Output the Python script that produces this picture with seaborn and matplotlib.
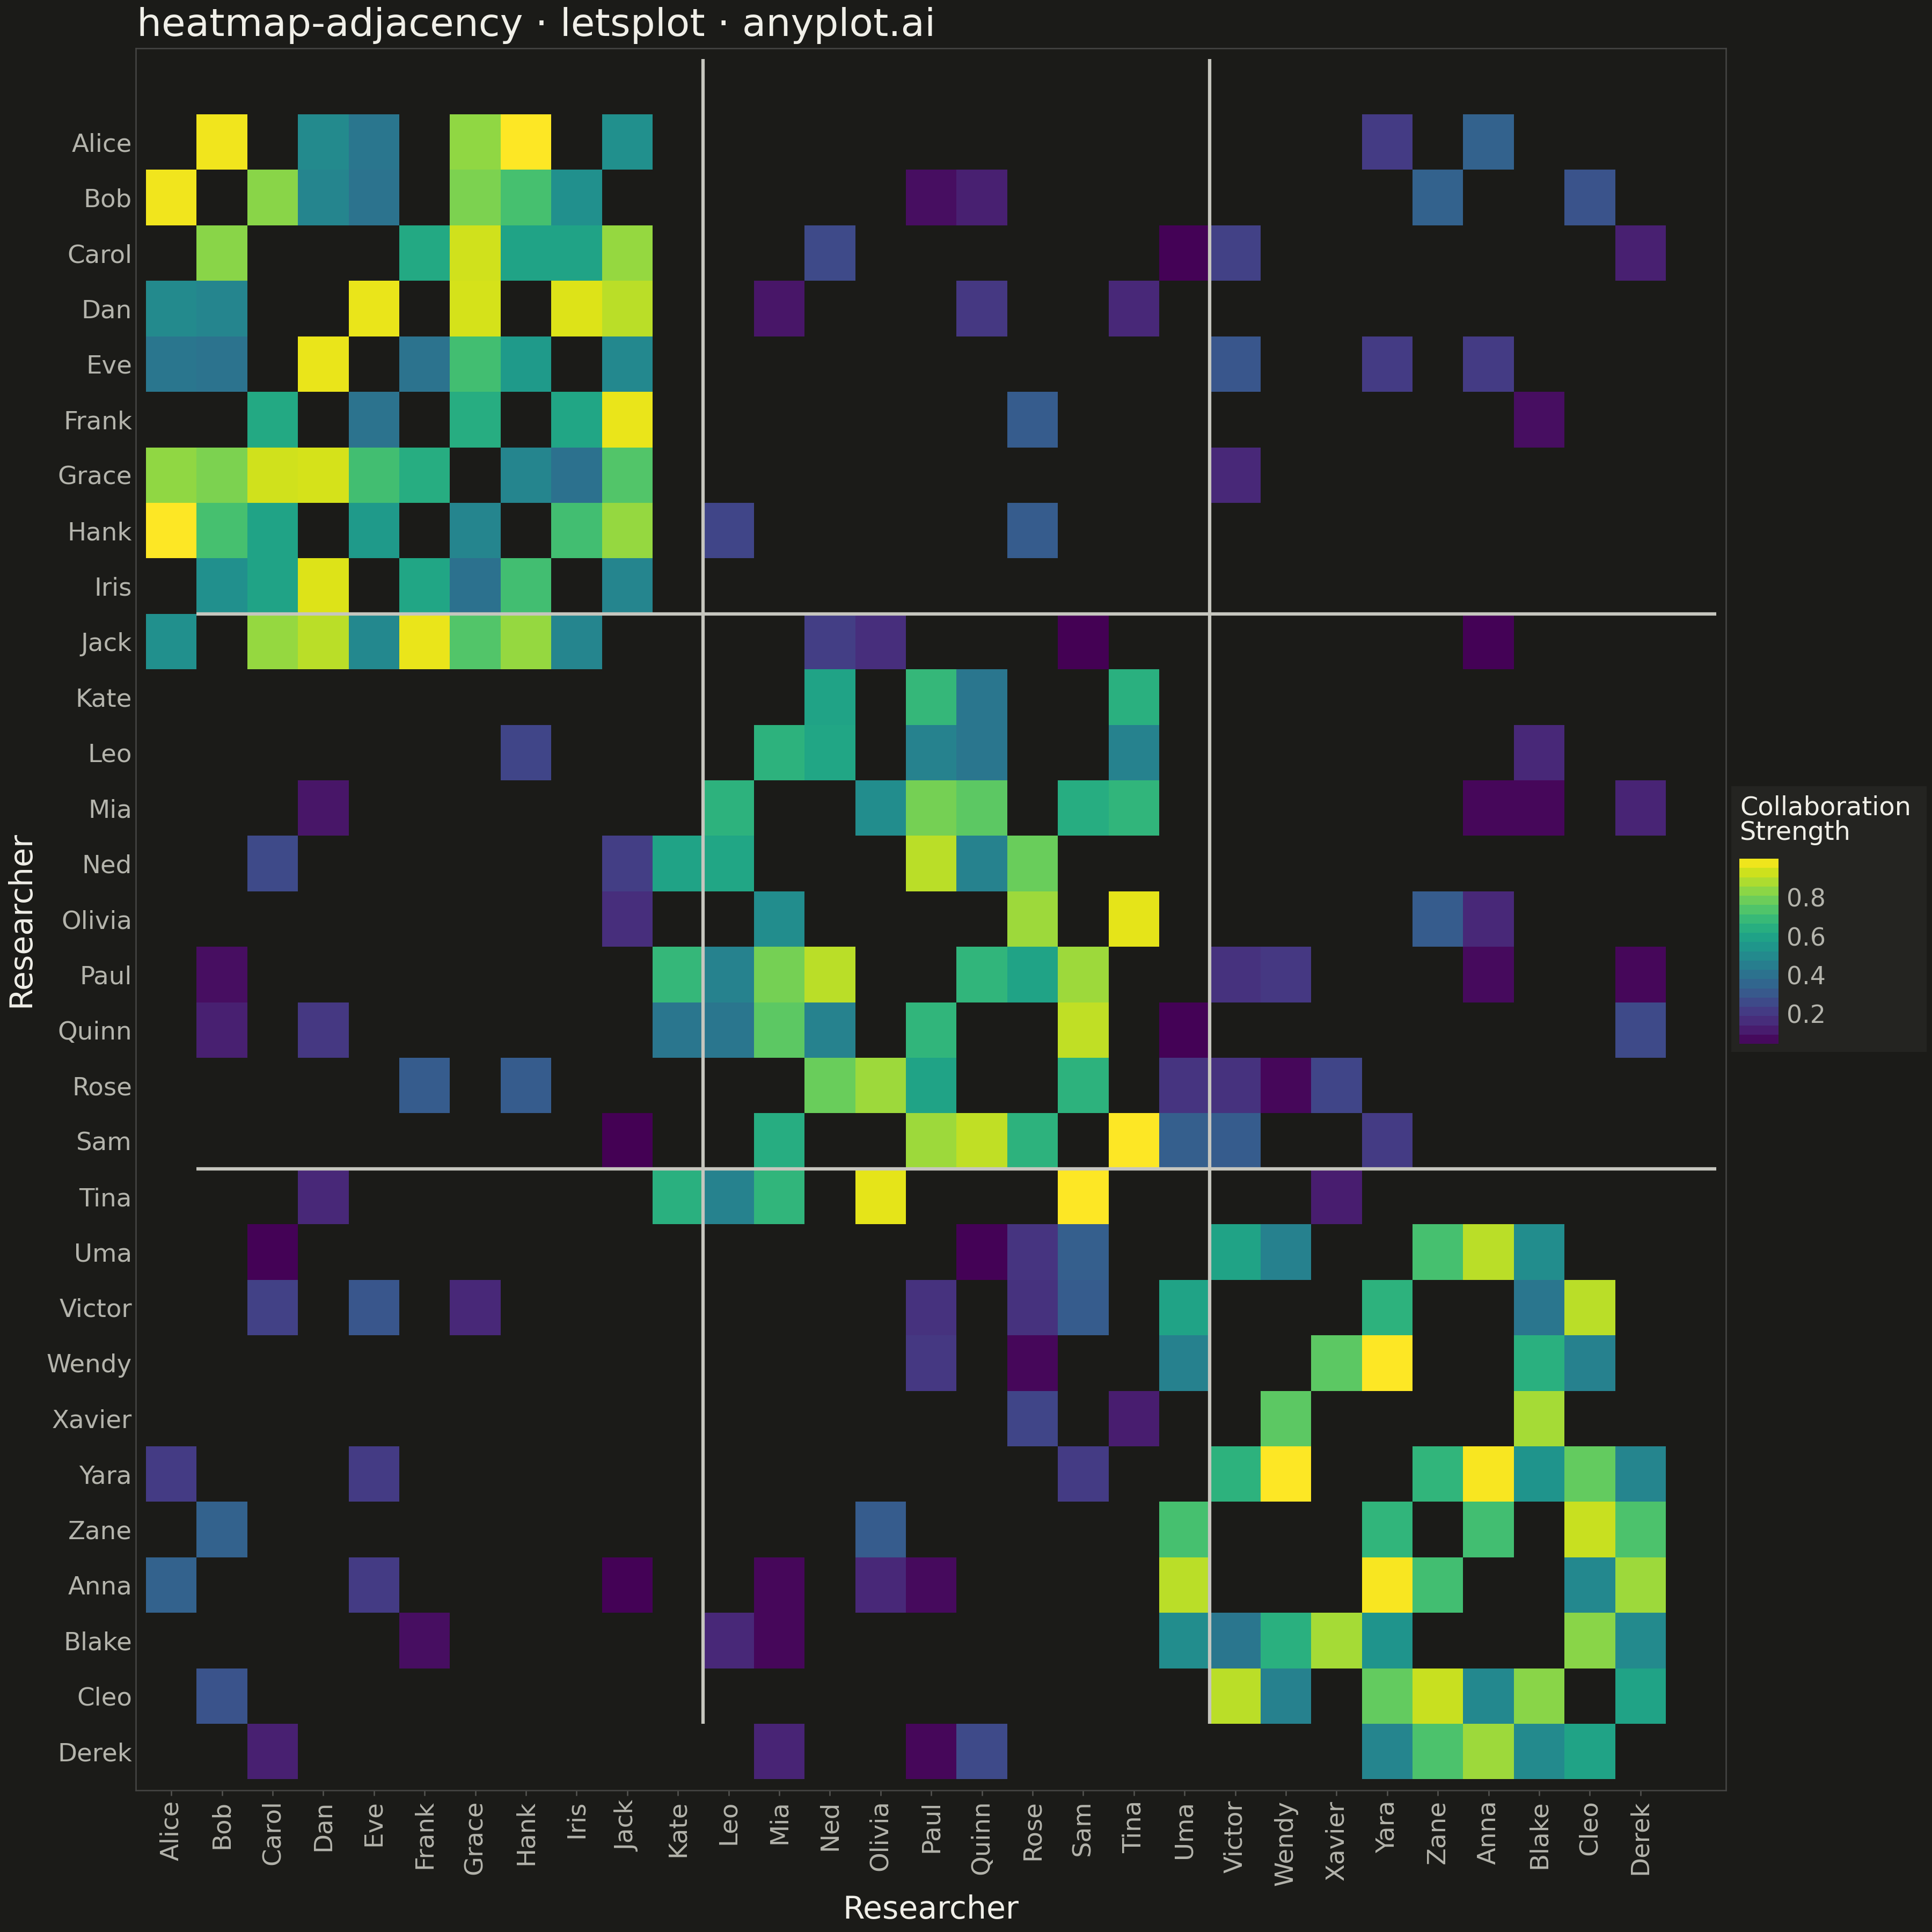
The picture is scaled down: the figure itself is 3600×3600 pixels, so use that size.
import numpy as np
import pandas as pd
import matplotlib
matplotlib.use("Agg")
import matplotlib.pyplot as plt
from matplotlib.patches import Rectangle
import seaborn as sns

# researchers, three groups of ten
researchers = ["Alice", "Bob", "Carol", "Dan", "Eve", "Frank", "Grace", "Hank", "Iris", "Jack",
               "Kate", "Leo", "Mia", "Ned", "Olivia", "Paul", "Quinn", "Rose", "Sam", "Tina",
               "Uma", "Victor", "Wendy", "Xavier", "Yara", "Zane", "Anna", "Blake", "Cleo", "Derek"]
group_sizes = [10, 10, 10]

# collaboration edges (undirected)
src = [
    "Alice", "Alice", "Alice", "Alice", "Alice", "Alice", "Alice", "Alice",
    "Bob", "Bob", "Bob", "Bob", "Bob", "Bob", "Bob", "Bob", "Bob", "Bob",
    "Carol", "Carol", "Carol", "Carol", "Carol", "Carol", "Carol", "Carol", "Carol",
    "Dan", "Dan", "Dan", "Dan", "Dan", "Dan", "Dan",
    "Eve", "Eve", "Eve", "Eve", "Eve", "Eve", "Eve",
    "Frank", "Frank", "Frank", "Frank", "Frank",
    "Grace", "Grace", "Grace", "Grace",
    "Hank", "Hank", "Hank", "Hank",
    "Iris",
    "Jack", "Jack", "Jack", "Jack",
    "Kate", "Kate", "Kate", "Kate",
    "Leo", "Leo", "Leo", "Leo", "Leo", "Leo",
    "Mia", "Mia", "Mia", "Mia", "Mia", "Mia", "Mia", "Mia",
    "Ned", "Ned", "Ned",
    "Olivia", "Olivia", "Olivia", "Olivia",
    "Paul", "Paul", "Paul", "Paul", "Paul", "Paul", "Paul",
    "Quinn", "Quinn", "Quinn",
    "Rose", "Rose", "Rose", "Rose", "Rose",
    "Sam", "Sam", "Sam", "Sam",
    "Tina",
    "Uma", "Uma", "Uma", "Uma", "Uma",
    "Victor", "Victor", "Victor",
    "Wendy", "Wendy", "Wendy", "Wendy",
    "Xavier",
    "Yara", "Yara", "Yara", "Yara", "Yara",
    "Zane", "Zane", "Zane",
    "Anna", "Anna",
    "Blake", "Blake",
    "Cleo",
]
dst = [
    "Bob", "Dan", "Eve", "Grace", "Hank", "Jack", "Yara", "Anna",
    "Carol", "Dan", "Eve", "Grace", "Hank", "Iris", "Paul", "Quinn", "Zane", "Cleo",
    "Frank", "Grace", "Hank", "Iris", "Jack", "Ned", "Uma", "Victor", "Derek",
    "Eve", "Grace", "Iris", "Jack", "Mia", "Quinn", "Tina",
    "Frank", "Grace", "Hank", "Jack", "Victor", "Yara", "Anna",
    "Grace", "Iris", "Jack", "Rose", "Blake",
    "Hank", "Iris", "Jack", "Victor",
    "Iris", "Jack", "Leo", "Rose",
    "Jack",
    "Ned", "Olivia", "Sam", "Anna",
    "Ned", "Paul", "Quinn", "Tina",
    "Mia", "Ned", "Paul", "Quinn", "Tina", "Blake",
    "Olivia", "Paul", "Quinn", "Sam", "Tina", "Anna", "Blake", "Derek",
    "Paul", "Quinn", "Rose",
    "Rose", "Tina", "Zane", "Anna",
    "Quinn", "Rose", "Sam", "Victor", "Wendy", "Anna", "Derek",
    "Sam", "Uma", "Derek",
    "Sam", "Uma", "Victor", "Wendy", "Xavier",
    "Tina", "Uma", "Victor", "Yara",
    "Xavier",
    "Victor", "Wendy", "Zane", "Anna", "Blake",
    "Yara", "Blake", "Cleo",
    "Xavier", "Yara", "Blake", "Cleo",
    "Blake",
    "Zane", "Anna", "Blake", "Cleo", "Derek",
    "Anna", "Cleo", "Derek",
    "Cleo", "Derek",
    "Cleo", "Derek",
    "Derek",
]
strength = [
    0.98, 0.50, 0.42, 0.84, 1.00, 0.52, 0.21, 0.34,
    0.83, 0.48, 0.41, 0.81, 0.72, 0.52, 0.08, 0.13, 0.34, 0.29,
    0.62, 0.93, 0.60, 0.60, 0.85, 0.26, 0.05, 0.23, 0.13,
    0.97, 0.94, 0.95, 0.90, 0.10, 0.20, 0.15,
    0.41, 0.71, 0.56, 0.49, 0.30, 0.21, 0.21,
    0.64, 0.61, 0.97, 0.32, 0.08,
    0.48, 0.40, 0.74, 0.15,
    0.71, 0.85, 0.24, 0.32,
    0.48,
    0.22, 0.17, 0.045, 0.05,
    0.60, 0.68, 0.42, 0.65,
    0.66, 0.61, 0.47, 0.42, 0.47, 0.15,
    0.51, 0.80, 0.76, 0.64, 0.67, 0.06, 0.06, 0.14,
    0.90, 0.47, 0.78,
    0.86, 0.96, 0.32, 0.15,
    0.67, 0.60, 0.86, 0.18, 0.20, 0.07, 0.06,
    0.91, 0.05, 0.26,
    0.66, 0.19, 0.18, 0.06, 0.24,
    1.00, 0.33, 0.32, 0.21,
    0.12,
    0.60, 0.46, 0.72, 0.90, 0.51,
    0.66, 0.42, 0.90,
    0.76, 1.00, 0.65, 0.46,
    0.87,
    0.67, 0.99, 0.54, 0.77, 0.48,
    0.71, 0.92, 0.73,
    0.49, 0.86,
    0.83, 0.50,
    0.60,
]
assert len(src) == len(dst) == len(strength)

BG = "#1b1b18"
LEGEND_BG = "#242421"
TITLE_C = "#f0efe8"
TICK_C = "#b4b4ac"
LINE_C = "#c6c6be"
SPINE_C = "#464644"

sns.set_theme(style="dark", rc={"axes.facecolor": BG, "figure.facecolor": BG})
plt.rcParams["font.family"] = ["DejaVu Sans"]

adj = pd.DataFrame(0.0, index=researchers, columns=researchers)
for a, b, w in zip(src, dst, strength):
    adj.loc[a, b] = w
    adj.loc[b, a] = w

vmin = min(strength)
vmax = max(strength)
n = len(researchers)

fig = plt.figure(figsize=(12, 12), dpi=300, facecolor=BG)
ax = fig.add_axes([0.0703, 0.0733, 0.8231, 0.9017])
cax = fig.add_axes([0.9003, 0.4597, 0.0203, 0.0958])

# legend box behind the colorbar
fig.patches.append(Rectangle((0.8961, 0.4556), 0.1011, 0.1375, transform=fig.transFigure,
                             facecolor=LEGEND_BG, edgecolor="none", zorder=-1))

sns.heatmap(adj, mask=(adj == 0), cmap="viridis", vmin=vmin, vmax=vmax, ax=ax, cbar_ax=cax,
            xticklabels=True, yticklabels=True, linewidths=0,
            cbar_kws={"boundaries": np.linspace(vmin, vmax, 21), "ticks": [0.2, 0.4, 0.6, 0.8]})

# group separators (drawn shifted by one cell, as in the original)
bounds = np.cumsum(group_sizes)[:-1]
ax.vlines(bounds + 1, -1, n - 1, color=LINE_C, lw=1.5, zorder=3)
ax.hlines(bounds - 1, 1, n + 1, color=LINE_C, lw=1.5, zorder=3)

ax.set_xlim(-0.20, 31.19)
ax.set_ylim(30.2, -1.19)
ax.set_facecolor(BG)
for s in ax.spines.values():
    s.set_visible(True)
    s.set_color(SPINE_C)
    s.set_linewidth(0.6)

ax.tick_params(axis="x", bottom=True, length=2.4, width=0.6, color="#555552", pad=2,
               labelsize=11.2, labelcolor=TICK_C)
ax.tick_params(axis="y", left=False, length=0, pad=1.7, labelsize=11.2, labelcolor=TICK_C)
plt.setp(ax.get_xticklabels(), rotation=90, ha="center", va="top")
plt.setp(ax.get_yticklabels(), rotation=0, ha="right", va="center_baseline")

ax.set_xlabel("Researcher", fontsize=14, color=TITLE_C, va="center")
ax.set_ylabel("Researcher", fontsize=14, color=TITLE_C, va="center")
ax.xaxis.set_label_coords(0.5, -0.0686)
ax.yaxis.set_label_coords(-0.0723, 0.5)

fig.text(0.0708, 0.9814, "heatmap-adjacency · letsplot · anyplot.ai", fontsize=17.4,
         color=TITLE_C, ha="left", va="baseline")

# colorbar styling
cax.set_facecolor(LEGEND_BG)
cax.tick_params(labelsize=11, labelcolor=TICK_C, color=BG, direction="in", length=3.4,
                width=0.8, left=True, right=True, pad=3.5)
fig.text(0.9006, 0.5886, "Collaboration\nStrength", fontsize=11.5, color=TITLE_C,
         ha="left", va="top", linespacing=1.0)

fig.savefig("out.png", dpi=300, facecolor=BG)
